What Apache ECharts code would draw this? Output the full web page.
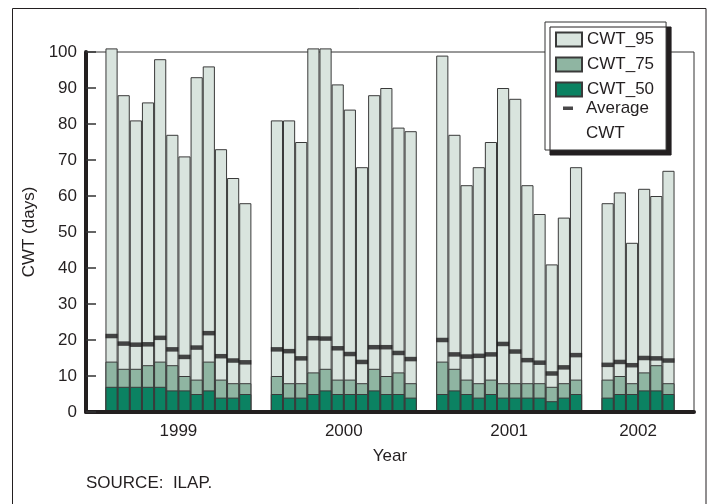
<!DOCTYPE html>
<html><head><meta charset="utf-8">
<script src="https://cdn.jsdelivr.net/npm/echarts@6/dist/echarts.min.js"></script>
<style>html,body{margin:0;padding:0;background:#fff}#c{width:709px;height:504px}</style>
</head><body><div id="c"></div>
<script>
const years = ['1999', '2000', '2001', '2002'];
const monthsPerYear = [12, 12, 12, 6];
const cwt95 = [101, 88, 81, 86, 98, 77, 71, 93, 96, 73, 65, 58,
               81, 81, 75, 101, 101, 91, 84, 68, 88, 90, 79, 78,
               99, 77, 63, 68, 75, 90, 87, 63, 55, 41, 54, 68,
               58, 61, 47, 62, 60, 67];
const cwt75 = [14, 12, 12, 13, 14, 13, 10, 9, 14, 9, 8, 8,
               10, 8, 8, 11, 12, 9, 9, 8, 12, 10, 11, 8,
               14, 12, 9, 8, 9, 8, 8, 8, 8, 7, 8, 9,
               9, 10, 8, 11, 13, 8];
const cwt50 = [7, 7, 7, 7, 7, 6, 6, 5, 6, 4, 4, 5,
               5, 4, 4, 5, 6, 5, 5, 5, 6, 5, 5, 4,
               5, 6, 5, 4, 5, 4, 4, 4, 4, 3, 4, 5,
               4, 5, 5, 6, 6, 5];
const avgCwt = [21.1, 19.0, 18.7, 18.8, 20.6, 17.4, 15.3, 17.9, 21.9, 15.5, 14.3, 13.8,
                17.4, 16.9, 14.9, 20.5, 20.4, 17.7, 16.1, 13.9, 18.0, 18.0, 16.4, 14.7,
                20.0, 16.0, 15.4, 15.6, 16.0, 18.9, 16.8, 14.4, 13.7, 10.7, 12.4, 15.8,
                13.1, 13.9, 13.0, 15.0, 14.9, 14.3];

const GAP = 1.6; // gap between year groups, in bar widths
const xPos = [], yearCenters = [];
let start = GAP;
monthsPerYear.forEach(n => {
  for (let m = 0; m < n; m++) xPos.push(start + m + 0.5);
  yearCenters.push(start + n / 2);
  start += n + GAP;
});
const xMax = start;

const FONT = 'Liberation Sans, Arial, Helvetica, sans-serif';
const FS = 17;
const INK = '#231f20';
const GRID = {left: 86, right: 15, top: 52, bottom: 92};
const barW = (709 - GRID.left - GRID.right) / xMax;
const border = '#3a3a3a';

function barSeries(name, vals, color) {
  return {
    name, type: 'bar', barWidth: barW, barGap: '-100%', clip: false,
    data: xPos.map((x, i) => [x, vals[i]]),
    itemStyle: {color, borderColor: border, borderWidth: 1}
  };
}
const txt = {fontFamily: FONT, fontSize: FS, color: INK};

const chart = echarts.init(document.getElementById('c'), null, {renderer: 'canvas'});
chart.setOption({
  animation: false,
  backgroundColor: '#fff',
  textStyle: {fontFamily: FONT, color: INK},
  grid: Object.assign({show: true, borderColor: '#333', borderWidth: 1}, GRID),
  title: {
    text: 'SOURCE:  ILAP.', left: 86, top: 475, padding: 0,
    textStyle: Object.assign({fontWeight: 'normal'}, txt)
  },
  legend: [{
    orient: 'vertical', left: 545, top: 22, padding: [9, 12, 52, 10],
    backgroundColor: '#fff', borderColor: '#333', borderWidth: 1,
    shadowColor: INK, shadowOffsetX: 5, shadowOffsetY: 5, shadowBlur: 0,
    icon: 'rect', itemWidth: 26, itemHeight: 14, itemGap: 8, selectedMode: false,
    textStyle: txt,
    data: ['CWT_95', 'CWT_75', 'CWT_50']
  }, {
    orient: 'vertical', left: 555, top: 96, padding: 0, z: 6,
    itemWidth: 26, itemHeight: 50, selectedMode: false,
    icon: 'path://M0,0M26,50M8,10.5L18,10.5L18,14L8,14Z',
    textStyle: Object.assign({lineHeight: 25}, txt),
    formatter: () => 'Average\nCWT',
    data: ['Average CWT']
  }],
  xAxis: {
    type: 'value', min: 0, max: xMax, z: 3,
    name: 'Year', nameLocation: 'middle', nameGap: 36,
    nameTextStyle: txt,
    axisLine: {show: true, lineStyle: {color: INK, width: 4}},
    axisTick: {show: false},
    splitLine: {show: false},
    axisLabel: Object.assign({
      customValues: yearCenters, margin: 11,
      formatter: v => { const i = yearCenters.findIndex(c => Math.abs(c - v) < 1e-6); return i >= 0 ? years[i] : ''; }
    }, txt)
  },
  yAxis: {
    type: 'value', min: 0, max: 100, interval: 10, z: 3,
    name: 'CWT (days)', nameLocation: 'middle', nameGap: 40, nameRotate: 90,
    nameTextStyle: txt,
    axisLine: {show: true, lineStyle: {color: INK, width: 4}},
    axisTick: {show: true, inside: true, length: 10, lineStyle: {color: '#333', width: 1.5}},
    axisLabel: Object.assign({margin: 9}, txt),
    splitLine: {show: false}
  },
  graphic: [{
    type: 'rect', silent: true, z: -10,
    shape: {x: 12.5, y: 8.5, width: 693.5, height: 510},
    style: {fill: 'none', stroke: INK, lineWidth: 1}
  }],
  series: [
    barSeries('CWT_95', cwt95, '#d9e4de'),
    barSeries('CWT_75', cwt75, '#8fb5a2'),
    barSeries('CWT_50', cwt50, '#0b8262'),
    {
      name: 'Average CWT', type: 'scatter', symbol: 'rect', symbolSize: [barW, 4.5], z: 5,
      data: xPos.map((x, i) => [x, avgCwt[i]]),
      itemStyle: {color: '#1c1a1b'}
    }
  ]
});
</script></body></html>
